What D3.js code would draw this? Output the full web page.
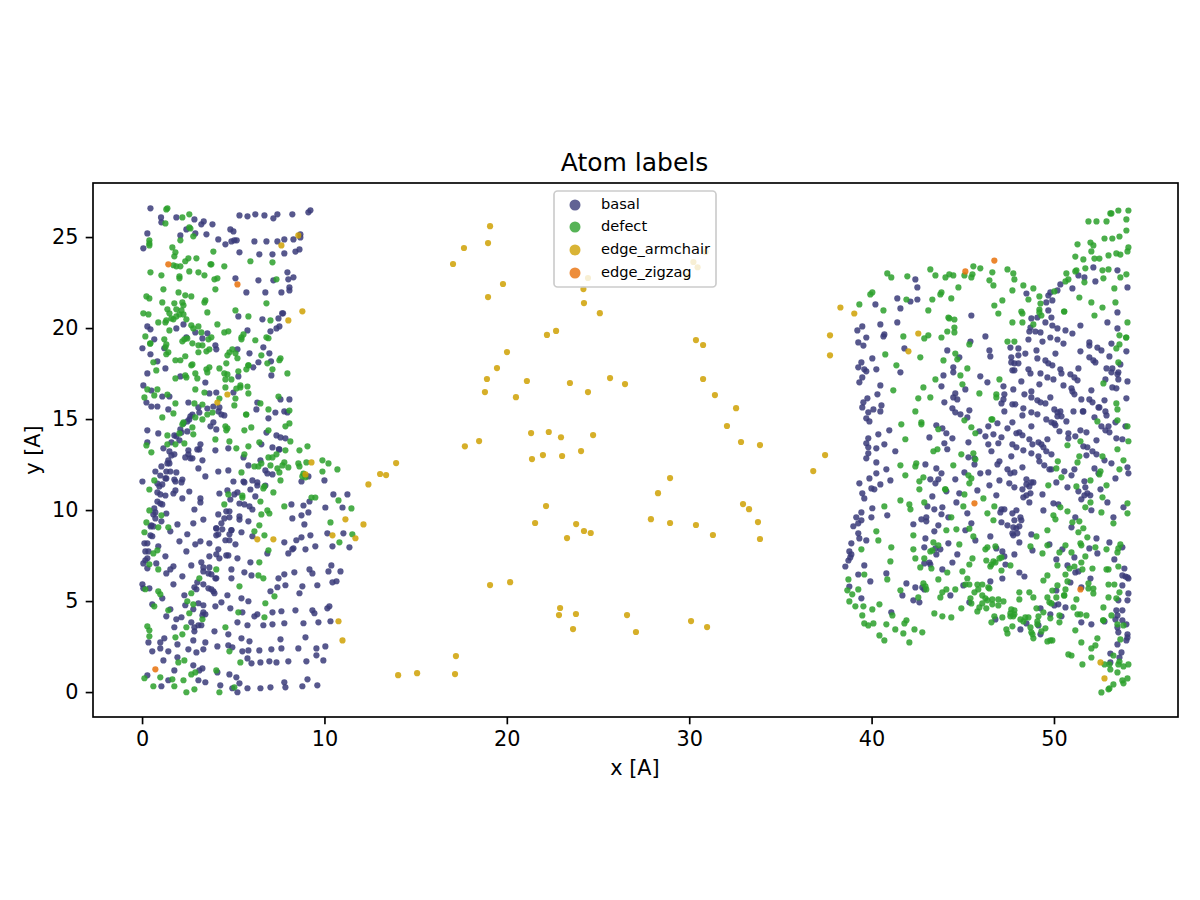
<!DOCTYPE html>
<html>
<head>
<meta charset="utf-8">
<script src="https://cdn.jsdelivr.net/npm/d3@7"></script>
<style>
html,body{margin:0;padding:0;background:#fff}
svg{display:block}
text{font-family:"DejaVu Sans",sans-serif;fill:#000}
</style>
</head>
<body>
<div id="chart"></div>
<script>
// Atom positions per structural label, in angstrom: [x, y]
const basal = [
[0.46,26.58],[1.04,26.08],[1.06,25.81],[1.88,26.08],[2.87,25.97],[3.38,25.86],[3.25,25.7],[3.86,25.7],[2.43,25.42],[2.92,25.2],[2.1,25.09],[3.53,25.15],[0.29,25.2],[4.84,25.42],[5.01,25.31],[5.34,26.19],[5.78,26.14],[6.21,26.25],[6.71,26.19],[7.2,26.03],[7.42,26.25],[8.24,26.25],[9.12,26.36],[9.23,26.47],[4.18,24.87],[4.9,24.76],[5.06,24.82],[5.19,24.82],[4.57,24.6],[6.16,24.76],[6.82,24.76],[7.42,24.76],[7.8,24.87],[8.3,24.87],[8.68,25.15],[8.68,24.98],[0.07,24.38],[5.34,24.16],[6.43,24.05],[7.15,24.05],[7.8,24.1],[8.41,24.2],[8.63,24.32],[7.97,23.06],[8.3,22.79],[8.02,22.68],[5.12,22.73],[6.38,22.62],[7.2,22.62],[8.08,22.24],[8.08,22.07],[5.72,21.96],[6.76,21.96],[7.64,21.96],[7.73,20.81],[7.68,20.81],[5.28,20.64],[6.6,20.48],[7.48,20.53],[0.29,20.09],[0.46,19.93],[2.27,20.2],[1.88,19.98],[2.92,19.76],[3.58,19.71],[3.31,19.43],[2.43,19.49],[5.78,19.87],[7.53,20.09],[7.37,19.98],[7.04,19.82],[0.67,19.38],[0.02,18.89],[1.22,18.89],[4.02,19.05],[4.07,18.83],[5.23,18.83],[6.65,18.94],[5.89,18.61],[6.98,18.61],[0.46,18.56],[0.84,18.17],[6.38,18.12],[7.07,18.17],
[0.29,17.51],[1.28,17.78],[2.1,17.34],[3.47,17.01],[5.28,17.34],[6.1,17.84],[7.09,17.4],[0.07,16.85],[0.51,16.57],[1.11,16.24],[1.5,16.24],[3.69,16.41],[4.07,16.46],[5.01,16.46],[0.24,15.91],[0.51,15.69],[0.84,15.69],[2.54,15.91],[1.44,15.53],[3.09,15.64],[3.14,15.36],[3.58,15.58],[3.91,15.69],[4.24,15.64],[4.19,15.42],[4.35,15.25],[4.51,15.2],[6.32,15.91],[6.27,15.53],[7.59,16.08],[8.08,16.08],[7.31,15.36],[7.8,15.42],[7.97,15.36],[6.93,15.04],[2.76,15.25],[2.65,15.15],[2.59,14.98],[2.48,14.87],[2.27,14.76],[3.91,14.82],[3.75,14.6],[4.07,14.43],[0.29,14.38],[0.89,14.21],[2.1,14.43],[2.48,14.32],[2.16,14.26],[1.77,14.1],[1.88,14.05],[2.05,13.83],[1.61,13.72],[0.29,13.72],[6.82,14.26],[7.37,14.1],[7.59,13.99],[7.86,13.94],[6.54,13.61],[3.2,13.61],[3.14,13.33],[3.03,13.33],[1.17,13.39],[2.54,13.28],[1.5,13.22],[4.02,13.28],[4.73,13.39],[7.15,13.44],[7.53,13.33],[7.5,13.33],[1.77,13.06],[1.61,13.0],[2.54,13.06],[2.37,12.89],[2.65,12.84],[2.76,12.84],[5.56,12.89],[1.44,12.73],[1.39,12.56],[1.5,12.56],[3.31,12.73],[6.49,12.73],[1.06,12.4],[3.09,12.29],[5.83,12.45],[0.73,12.12],[1.33,12.12],[1.55,12.12],[1.88,12.07],[4.18,12.12],[4.73,12.18],[6.76,12.18],[6.87,12.01],[7.15,11.96],[1.0,11.9],[3.47,11.85],[9.12,11.85],[1.28,11.74],[1.33,11.74],[0.02,11.57],[2.21,11.68],[2.16,11.52],[1.77,11.68],[1.83,11.57],[0.84,11.46],[1.11,11.41],[0.95,11.3],[5.01,11.57],[5.56,11.57],[5.61,11.52],[6.05,11.63],[6.32,11.52],[6.32,11.35],[6.76,11.35],[8.74,11.57],[10.0,11.63],[5.94,11.13],[1.83,11.08],[1.72,10.91],[0.84,10.97],[1.0,10.86],[1.28,10.8],[2.59,11.02],[4.68,11.08],[5.23,10.97],[5.06,10.86],[4.24,10.91],[4.84,10.58],[6.21,10.75],[10.49,10.86],[11.26,10.86],[2.21,10.64],[3.2,10.64],[3.2,10.42],[0.84,10.47],[1.0,10.36],[1.11,10.31],[9.18,10.47],[5.34,10.36],[5.61,10.31],[5.89,10.2],[6.05,10.03],[8.19,10.31],[8.85,10.25],[10.05,10.14],[10.99,10.14],[0.67,10.09],[0.73,9.87],[0.62,9.76],[0.73,9.54],[2.87,10.03],[1.33,9.81],[9.12,9.87],[8.74,9.71],[4.18,9.76],[4.62,9.93],[4.79,9.93],[4.79,9.6],[4.51,9.54],[5.34,9.65],[5.34,9.48],[8.24,9.54],[2.81,9.27],[3.36,9.48],[1.94,9.21],[5.83,9.38],[4.35,9.27],[8.9,9.21],[1.06,9.38],[0.51,9.16],[0.62,9.1],[4.07,8.99],[4.9,8.9],
[0.47,9.1],[1.55,8.83],[2.48,8.67],[2.05,8.28],[0.46,8.61],[0.56,8.56],[0.13,8.17],[0.29,8.17],[4.07,9.0],[4.4,8.94],[4.18,8.67],[4.07,8.61],[4.9,8.89],[4.79,8.67],[5.45,8.78],[6.05,8.56],[4.57,8.34],[4.79,8.34],[5.12,8.12],[2.92,8.12],[3.2,8.28],[3.69,8.17],[7.8,8.23],[8.46,8.34],[8.74,8.5],[9.23,8.61],[10.16,8.72],[11.04,8.72],[10.44,8.01],[11.37,7.95],[9.5,8.01],[8.96,7.84],[8.3,7.9],[8.24,7.84],[8.02,7.62],[0.89,8.01],[0.18,7.73],[0.35,7.73],[2.43,7.73],[4.18,7.84],[4.07,7.57],[4.24,7.35],[3.69,7.46],[4.62,7.51],[4.73,7.51],[5.23,7.35],[6.87,7.62],[1.28,7.46],[0.29,7.35],[0.18,7.24],[0.07,7.07],[0.78,7.07],[0.29,6.8],[3.25,7.13],[2.7,6.96],[5.94,7.13],[1.72,6.91],[1.55,6.74],[1.33,6.52],[3.36,6.85],[3.36,6.63],[3.69,6.85],[3.64,6.52],[3.8,6.47],[4.9,6.74],[4.9,6.25],[4.07,6.25],[4.02,6.25],[2.21,6.36],[5.61,6.58],[6.0,6.41],[7.48,6.25],[7.8,6.47],[8.35,6.58],[9.18,6.74],[9.34,6.52],[10.38,6.96],[10.22,6.63],[10.88,6.63],[10.44,6.03],[10.66,6.09],[9.61,5.87],[8.79,5.81],[7.86,5.87],[7.42,5.76],[7.04,5.54],[8.63,5.43],[0.02,5.92],[0.07,5.7],[0.4,5.7],[1.72,5.92],[3.03,6.03],[2.87,5.76],[2.98,5.65],[3.36,5.92],[3.64,5.7],[3.8,5.65],[3.91,5.54],[3.97,5.43],[2.32,5.32],[4.68,5.32],[5.45,5.15],[5.83,4.99],[1.11,5.15],[0.56,4.82],[3.09,4.88],[3.36,4.77],[2.37,4.77],[2.81,4.55],[1.55,4.55],[4.02,4.71],[4.35,4.93],[4.84,4.6],[3.36,4.38],[3.47,4.27],[3.31,4.22],[5.5,4.38],[7.15,4.38],[7.64,4.44],[6.32,4.27],[6.16,4.16],[8.41,4.49],[9.34,4.49],[9.45,4.33],[10.16,4.6],[10.27,4.71],[1.33,4.16],[1.88,4.0],[2.16,4.11],[2.7,3.83],[5.23,3.83],[5.78,3.67],[6.65,3.67],[7.15,3.72],[7.8,3.78],[8.85,3.78],[9.67,3.83],[10.33,3.89],[1.77,3.56],[2.87,3.56],[2.87,3.34],[3.09,3.67],[3.25,3.67],[3.97,3.34],[4.73,3.17],[1.22,2.95],[1.0,2.73],[5.45,2.95],[5.89,2.79],[7.59,2.9],[8.96,3.01],[0.35,2.73],[1.94,2.62],[2.81,2.84],[3.47,2.73],[1.0,2.4],[2.54,2.35],[2.98,2.18],[3.36,2.35],[4.13,2.51],[4.73,2.57],[4.95,2.46],[0.56,2.24],[1.44,2.24],[5.5,2.24],[5.83,2.29],[6.43,2.29],[7.09,2.35],[7.64,2.4],[8.57,2.4],[9.56,2.4],[10.05,2.51],[9.56,2.02],[9.94,1.74],[9.01,1.69],[8.02,1.69],[7.37,1.63],[6.98,1.69],[6.49,1.63],[6.0,1.58],[5.78,1.85],[1.17,1.74],[1.94,1.91],[2.81,1.47],[1.77,1.19],[3.31,1.3],[3.14,1.19],[0.29,0.92],[4.13,1.08],[4.79,0.97],[5.17,0.81],[3.09,0.65],[3.47,0.54],[1.44,0.65],[4.29,0.37],[5.34,0.48],[1.06,0.32],[4.95,0.21],[5.78,0.21],[6.49,0.21],[7.04,0.26],[7.8,0.54],[7.86,0.26],[8.79,0.32],[9.07,0.7],[9.61,0.37],[5.23,-0.01],
[42.4,22.67],[42.51,22.23],[52.16,23.33],[53.48,23.17],[51.34,22.89],[51.67,22.78],[52.27,22.56],[50.35,22.4],[51.01,22.18],[54.03,22.23],[48.49,21.9],[50.19,22.07],[49.8,21.96],[49.69,21.79],[41.41,21.63],[42.13,21.46],[42.51,21.57],[40.21,21.3],[41.58,21.08],[49.91,21.52],[49.58,21.41],[49.69,20.97],[45.47,20.69],[48.76,20.53],[49.09,20.58],[49.86,20.58],[53.48,20.86],[41.41,20.31],[40.48,20.2],[49.53,20.31],[49.91,20.14],[50.19,19.98],[52.93,20.31],[51.45,20.14],[53.48,19.98],[39.49,20.09],[39.22,19.87],[48.71,20.03],[48.65,19.81],[48.98,19.81],[49.26,19.76],[50.63,19.87],[51.01,19.7],[40.7,19.65],[40.65,19.54],[39.71,19.48],[46.24,19.54],[49.8,19.48],[50.19,19.37],[48.6,19.37],[45.42,19.26],[49.37,19.26],[39.27,19.21],[39.55,19.04],[50.52,19.15],[51.94,19.21],[51.94,19.04],[53.15,19.15],[52.38,18.93],[52.6,18.77],[47.61,18.93],[48.05,18.88],[41.8,18.88],[44.15,18.77],[46.46,18.77],[49.04,18.77],[51.45,18.72],[53.97,18.72],[48.43,18.6],[50.08,18.6],[48.05,18.5],[46.51,18.44],[53.04,18.44],[47.66,18.39],[44.81,18.39],[40.04,18.33],[49.09,18.33],[51.94,18.39],[52.16,18.22],[52.27,18.11],[39.44,18.11],[39.27,17.84],[49.53,18.22],[49.69,18.06],[49.91,17.95],[47.66,18.11],[48.05,18.06],[47.83,18.06],[53.64,18.0],[44.48,17.84],[40.26,17.73],[39.6,17.73],[48.6,17.73],[50.35,17.73],[51.34,17.78],[52.88,17.78],[53.2,17.78],
[39.71,17.62],[41.58,17.57],[39.49,17.29],[39.33,17.02],[40.48,16.85],[40.32,16.36],[39.77,16.14],[39.55,15.92],[39.49,15.64],[40.54,15.75],[40.1,15.53],[39.82,15.37],[40.48,15.42],[39.71,15.04],[39.88,14.87],[44.48,17.57],[43.94,17.4],[43.83,16.8],[45.14,16.63],[44.59,16.41],[44.48,16.19],[44.7,16.08],[43.99,15.92],[44.43,15.59],[44.59,15.37],[44.87,15.26],[45.36,15.48],[45.25,15.09],[45.96,17.35],[46.35,17.02],[47.23,16.8],[47.28,16.36],[47.23,16.08],[47.12,15.86],[47.77,16.63],[48.21,17.07],[47.72,15.81],[47.88,15.81],[47.28,15.42],[48.38,16.36],[48.76,16.52],[48.76,16.19],[48.32,15.59],[48.27,15.2],[48.76,15.37],[49.09,15.26],[49.09,16.03],[49.26,15.92],[49.53,15.86],[49.8,16.19],[50.02,15.53],[50.19,15.37],[50.35,15.42],[50.19,15.15],[50.41,15.15],[51.07,15.42],[51.61,15.42],[51.58,15.42],[49.2,16.91],[48.71,17.51],[49.26,17.51],[49.64,17.29],[49.97,17.18],[50.41,17.51],[50.9,17.46],[51.12,17.29],[51.29,17.13],[50.52,16.85],[50.96,16.69],[51.01,16.52],[51.12,16.36],[51.5,16.08],[52.05,16.58],[51.94,16.08],[52.11,15.92],[52.44,15.64],[52.49,15.64],[52.77,16.03],[52.82,15.42],[52.88,15.2],[52.22,15.1],[53.15,17.57],[53.53,17.57],[54.03,17.07],[52.82,17.18],[53.2,16.74],[53.42,16.69],[53.97,16.14],[53.48,17.46],[53.53,17.18],[47.72,17.68],[47.83,17.68],[49.58,14.98],[49.86,14.82],[50.02,14.76],[50.08,14.66],[50.3,14.33],[50.68,14.87],[48.76,14.6],[47.72,14.82],[47.45,14.49],[46.9,14.77],[46.4,14.6],[45.91,14.33],[46.24,14.05],[46.68,14.16],[47.94,14.22],[48.1,14.27],[48.27,14.11],[47.12,14.0],[46.95,13.67],[46.4,13.61],[46.57,13.23],[47.72,13.61],[47.94,13.45],[48.32,13.28],[48.65,13.89],[48.82,13.61],[49.15,13.72],[49.31,13.61],[49.42,13.45],[49.58,13.23],[49.64,13.89],[48.76,13.12],[49.86,13.06],[50.79,14.22],[50.79,13.94],[51.17,14.05],[51.45,14.38],[51.78,14.27],[52.33,13.83],[51.61,13.5],[51.83,13.45],[52.11,13.23],[52.33,13.06],[51.78,13.01],[52.6,14.6],[52.82,14.38],[53.04,14.27],[52.99,14.6],[53.42,13.94],[53.75,13.89],[53.92,14.6],[53.37,14.82],[43.55,14.66],[43.88,14.49],[44.1,14.22],[44.43,13.94],[43.17,13.99],[43.99,13.67],[44.15,13.34],[45.31,13.72],[40.97,14.38],[40.37,14.16],[39.82,13.94],[39.71,13.67],[39.82,13.45],[40.7,13.61],[40.26,13.39],[41.3,13.23],[39.82,13.12],[39.71,12.84],[40.26,12.62],[42.95,12.51],[40.81,12.24],[40.26,12.02],[39.88,11.74],[41.03,11.63],[40.48,11.41],[39.33,11.47],[39.99,11.19],[40.15,11.14],[39.49,10.92],[39.6,10.64],[45.31,12.9],[45.64,12.84],[45.64,12.51],[47.01,12.68],[46.9,12.51],[47.66,12.95],[48.27,12.35],[43.55,12.29],[43.83,12.02],[45.09,12.07],[45.96,12.02],[46.4,12.07],[47.45,12.24],[47.61,12.02],[47.83,12.07],[43.22,11.69],[43.66,11.69],[43.5,11.47],[44.59,11.69],[46.46,11.36],[47.01,11.63],[47.55,11.47],[47.83,11.25],[48.49,11.69],[48.49,11.41],[48.76,11.52],[48.87,11.52],[48.65,11.3],[48.27,11.14],[48.71,10.92],[48.49,10.81],[48.32,10.7],[48.65,10.42],[49.37,10.86],[43.33,10.75],[44.1,11.03],[44.81,10.92],[45.8,11.08],[46.84,10.81],[44.65,10.42],[43.06,10.2],[43.44,10.04],[43.88,10.15],[45.25,9.82],[43.83,9.77],[44.21,9.6],[47.12,10.04],[47.28,10.04],[47.06,9.87],[47.72,9.82],[47.94,9.99],[48.16,9.6],[48.21,9.44],[49.42,9.98],[47.83,9.44],[47.12,9.33],[47.45,9.16],[47.77,9.05],[47.94,9.0],[48.1,9.11],[47.72,8.72],[45.47,9.27],[45.14,8.89],[43.0,9.6],[42.73,9.49],[43.0,9.38],[42.29,9.22],[43.44,8.83],[43.66,9.16],[40.86,9.71],[40.04,10.1],[39.99,9.6],[39.44,9.87],[39.16,9.6],[39.44,9.44],[39.27,9.27],[39.0,9.11],[39.27,8.72],[49.97,10.37],[50.24,10.31],[51.17,9.6],[50.96,9.05],[52.05,9.99],[52.93,10.42],[53.81,10.15],[53.26,9.6],[50.13,11.52],[50.57,12.13],[51.12,12.24],[50.96,11.91],[50.74,11.25],[51.34,11.03],[51.67,11.58],[51.72,11.25],[51.83,10.92],[51.67,10.81],[51.5,10.59],[51.99,10.81],[52.55,11.14],[53.37,11.74],[54.08,12.02],[54.03,12.35],[53.15,12.57],[52.22,12.29],[52.44,12.02],[52.77,12.73],[49.86,12.24],[49.47,12.46],[49.75,12.24],[49.15,12.95],[49.2,12.68],
[46.51,8.55],[45.69,8.33],[48.1,8.22],[47.77,8.61],[47.99,8.72],[48.76,8.66],[52.33,8.44],[53.04,8.22],[42.95,8.44],[39.33,8.44],[39.71,8.33],[38.89,8.17],[44.21,8.17],[42.89,7.95],[43.5,7.89],[43.77,7.84],[43.55,7.56],[44.7,7.56],[46.84,7.89],[47.17,7.73],[47.28,7.45],[48.82,7.78],[49.75,8.11],[47.83,7.56],[51.94,7.89],[50.46,7.84],[52.38,7.62],[53.75,7.95],[38.78,7.73],[38.89,7.56],[38.83,7.4],[38.73,7.23],[38.56,6.9],[39.6,6.96],[43.17,7.12],[43.22,7.01],[42.89,7.07],[44.43,7.12],[47.34,7.01],[50.13,7.29],[51.12,7.4],[50.74,6.96],[53.31,7.29],[53.86,6.79],[43.88,6.74],[39.27,6.46],[40.81,6.52],[48.1,6.57],[48.38,6.35],[47.17,6.24],[51.17,6.57],[51.34,6.63],[52.0,6.24],[53.75,6.41],[53.92,6.35],[54.03,6.3],[54.08,6.24],[39.93,6.08],[41.91,5.97],[46.51,6.08],[45.03,5.86],[50.9,6.02],[38.78,5.8],[42.4,5.75],[53.75,5.86],[42.89,5.64],[42.78,5.75],[50.13,5.58],[51.5,5.75],[41.69,5.31],[44.32,5.31],[39.44,5.15],[42.29,5.04],[42.62,4.93],[45.36,4.93],[54.08,5.42],[54.03,5.04],[53.53,5.04],[50.02,4.76],[50.24,4.82],[49.26,4.6],[50.63,4.65],[41.08,4.38],[53.42,4.49],[53.75,4.49],[53.48,4.21],[53.37,3.99],[49.8,4.27],[50.41,4.16],[46.79,3.99],[53.75,3.94],[51.5,3.83],[52.05,3.72],[52.77,3.88],[48.49,3.77],[49.15,3.66],[48.16,3.44],[53.97,3.72],[53.48,3.55],[53.53,3.28],[49.26,3.17],[54.03,3.17],[54.03,3.0],[53.97,2.84],[53.48,2.62],[53.7,2.18],[53.09,2.12],[53.59,1.9],[53.09,1.63]
];
const defect = [
[1.39,26.58],[1.33,26.52],[2.21,26.08],[2.59,26.25],[1.28,25.75],[2.59,25.53],[2.65,25.47],[2.81,25.04],[2.1,24.82],[0.4,24.82],[0.4,24.65],[0.4,24.54],[1.66,24.43],[1.83,24.16],[1.77,23.94],[3.91,24.2],[2.54,23.83],[2.98,23.83],[2.37,23.67],[5.94,23.67],[7.15,23.61],[1.72,23.45],[1.88,23.39],[2.1,23.39],[3.75,23.5],[3.8,23.5],[4.51,23.39],[0.46,23.06],[1.06,22.9],[2.59,23.11],[3.09,23.06],[3.42,22.9],[2.05,22.84],[2.05,22.73],[3.97,22.68],[4.13,22.73],[7.37,22.68],[1.17,22.13],[4.02,22.13],[2.0,21.96],[2.37,21.8],[2.7,21.74],[0.24,21.74],[0.4,21.63],[3.47,21.52],[3.42,21.41],[1.11,21.41],[1.77,21.36],[2.21,21.41],[2.27,21.25],[6.82,21.36],[1.39,21.03],[0.07,20.81],[0.35,20.75],[1.5,20.81],[1.88,21.03],[2.16,20.97],[2.05,20.75],[2.27,20.75],[1.88,20.64],[1.61,20.53],[1.72,20.48],[2.43,20.48],[3.58,20.86],[5.12,20.97],[5.83,20.64],[7.04,20.42],[0.89,20.31],[1.28,20.31],[1.33,20.42],[4.13,20.2],[2.7,20.15],[3.09,20.09],[2.81,19.98],[1.5,19.87],[3.25,19.76],[4.51,19.76],[4.73,19.82],[0.18,19.54],[1.22,19.38],[2.32,19.38],[2.21,19.27],[2.48,19.43],[2.76,19.16],[3.64,19.38],[3.8,19.49],[5.56,19.65],[5.45,19.49],[5.45,19.38],[6.21,19.33],[6.82,19.49],[6.93,19.44],[0.46,19.16],[0.44,19.14],[3.09,19.05],[3.31,19.05],[1.33,19.1],[1.28,18.94],[1.44,18.67],[1.33,18.56],[3.09,18.67],[3.53,18.72],[3.69,18.83],[4.95,18.83],[4.79,18.67],[4.68,18.5],[5.12,18.61],[5.23,18.34],[6.54,18.5],[7.59,18.34],[7.53,18.23],[1.83,18.23],[2.1,18.23],[2.37,18.45],[0.62,18.12],[2.76,18.0],[4.62,18.06],[5.83,17.95],[6.87,18.06],
[0.78,17.67],[1.83,17.23],[2.37,17.4],[2.43,17.29],[2.92,17.51],[3.03,17.23],[3.53,17.73],[3.58,17.56],[3.69,17.84],[2.7,17.95],[4.24,17.78],[4.51,17.51],[4.68,17.45],[4.57,17.18],[4.9,17.18],[5.28,17.62],[5.72,17.73],[5.83,17.95],[7.15,17.73],[7.97,17.51],[4.57,16.74],[5.39,16.85],[5.17,16.68],[5.39,16.74],[5.78,16.79],[0.29,16.63],[0.84,16.63],[2.92,16.63],[0.13,16.19],[0.67,16.3],[1.39,16.35],[3.42,16.46],[5.83,16.41],[5.12,16.13],[4.24,16.13],[7.48,16.24],[1.83,15.86],[2.87,15.86],[3.31,15.8],[5.06,15.75],[6.49,15.86],[6.93,15.53],[8.08,15.47],[1.72,15.31],[5.72,15.25],[5.7,15.25],[1.11,15.09],[2.92,15.09],[3.31,14.98],[3.58,15.25],[3.86,15.36],[2.27,14.82],[2.21,14.71],[8.08,14.76],[7.86,14.6],[2.76,14.54],[4.57,14.6],[4.68,14.49],[4.62,14.38],[5.99,14.54],[5.61,14.38],[6.93,14.38],[2.05,14.21],[2.81,14.16],[1.39,14.1],[4.02,13.88],[4.79,13.77],[6.43,13.72],[8.13,13.77],[0.24,13.55],[1.39,13.61],[1.83,13.61],[2.32,13.66],[5.83,13.5],[5.17,13.39],[9.07,13.5],[7.86,13.28],[8.63,13.28],[0.51,13.17],[5.61,13.06],[7.37,13.06],[6.93,12.89],[7.15,12.89],[9.89,12.73],[10.22,12.56],[8.57,12.56],[8.63,12.4],[9.01,12.62],[7.8,12.62],[7.7,12.45],[6.54,12.56],[7.04,12.45],[6.16,12.4],[6.38,12.4],[7.42,12.29],[8.02,12.34],[10.71,12.23],[9.89,12.12],[7.53,12.07],[5.45,12.07],[8.85,12.01],[8.79,11.85],[8.96,11.8],[7.59,11.63],[0.67,11.63],[6.65,11.19],[6.71,11.3],[0.4,11.13],[7.2,10.97],[4.73,10.86],[5.5,10.8],[5.5,10.69],[6.49,10.47],[9.29,10.69],[9.5,10.69],[10.77,10.53],[4.51,10.31],[7.8,10.2],[11.48,10.09],[6.87,9.98],[6.98,9.81],[6.54,9.76],[0.4,9.98],[1.06,9.71],[10.33,9.32],[6.43,9.16],[0.24,9.32],[0.89,9.05],[1.44,9.05],
[0.13,8.78],[6.16,8.83],[6.71,8.61],[10.82,8.23],[11.53,8.67],[6.93,7.79],[0.84,7.79],[0.62,7.62],[0.4,7.02],[0.89,6.74],[6.43,7.13],[4.07,6.74],[6.38,6.41],[6.65,6.25],[3.14,6.25],[5.34,5.81],[0.18,5.65],[0.89,5.54],[1.0,5.37],[2.7,5.43],[7.26,5.26],[2.48,4.99],[2.81,4.82],[6.76,4.88],[0.67,4.71],[1.44,4.49],[2.59,4.33],[5.28,4.38],[6.71,4.11],[3.31,4.0],[0.29,3.61],[0.4,3.39],[4.57,3.56],[2.43,3.56],[2.21,3.17],[1.83,3.01],[0.4,3.06],[4.79,2.24],[5.39,1.63],[1.99,1.63],[2.32,1.74],[4.07,1.19],[2.92,1.08],[2.7,0.97],[0.13,0.76],[1.0,0.81],[1.66,0.7],[2.27,0.65],[0.62,0.32],[1.77,0.32],[2.87,0.15],[2.43,-0.01],[4.24,-0.01],[5.06,0.26],
[54.08,26.46],[53.53,26.46],[53.15,26.3],[53.09,26.3],[51.89,25.86],[52.33,25.86],[52.88,25.86],[53.97,25.97],[53.97,25.36],[53.59,25.03],[53.2,24.92],[52.77,24.92],[52.0,24.7],[52.16,24.54],[51.29,24.6],[52.05,24.21],[54.08,24.43],[54.03,24.21],[53.42,24.1],[53.64,24.04],[51.17,23.93],[51.61,23.77],[52.22,23.82],[52.49,23.82],[52.99,23.99],[45.58,23.39],[45.96,23.28],[51.72,23.28],[52.66,23.17],[52.99,23.22],[51.23,23.17],[51.17,23.11],[43.22,23.22],[47.45,23.22],[46.62,23.06],[47.77,23.0],[50.68,23.0],[53.97,22.95],[40.86,23.0],[41.08,22.78],[41.96,22.84],[43.5,22.89],[44.05,22.78],[44.26,22.95],[44.48,22.89],[45.09,22.89],[45.53,22.95],[45.47,22.78],[46.46,22.62],[46.68,22.34],[47.83,22.67],[52.71,22.73],[53.64,22.78],[50.79,22.67],[50.63,22.56],[51.67,22.51],[48.32,22.34],[44.76,22.23],[48.87,22.18],[53.31,22.18],[47.72,22.07],[50.02,22.01],[40.04,21.96],[39.93,21.85],[43.83,21.96],[43.77,21.85],[49.2,21.74],[51.39,21.68],[41.91,21.57],[43.33,21.57],[44.37,21.63],[48.6,21.57],[47.17,21.52],[52.05,21.41],[53.37,21.41],[39.33,21.3],[49.26,21.35],[46.73,21.24],[52.66,21.13],[40.65,20.97],[43.11,20.97],[48.21,20.91],[48.27,20.8],[49.2,21.02],[49.2,20.86],[49.31,20.69],[46.95,20.8],[50.57,20.91],[50.55,20.91],[52.22,20.69],[44.21,20.58],[44.26,20.53],[44.54,20.47],[47.72,20.31],[48.27,20.31],[48.87,20.2],[54.03,20.31],[44.54,20.03],[44.15,19.81],[44.54,19.76],[53.59,19.6],[53.97,19.48],[53.95,19.48],[41.74,19.54],[43.11,19.6],[42.89,19.43],[43.83,19.48],[47.45,19.26],[47.83,19.26],[45.36,19.1],[53.59,19.1],[53.42,18.88],[44.59,18.6],[40.75,18.55],[42.67,18.39],[44.7,18.28],[43.94,18.22],[41.36,17.95],[45.25,17.78],[53.53,18.11],
[43.5,17.18],[44.87,17.4],[44.98,16.91],[47.01,17.18],[41.19,16.58],[42.84,16.74],[42.56,16.14],[43.22,16.19],[45.91,16.41],[46.84,16.36],[46.84,16.19],[52.71,16.96],[42.4,15.42],[53.42,15.86],[53.48,15.53],[45.09,14.93],[46.57,14.98],[46.62,14.98],[52.38,14.87],[53.48,14.93],[41.63,14.71],[42.73,14.82],[42.73,14.71],[45.47,14.55],[43.66,14.44],[54.03,14.6],[45.69,14.22],[41.85,13.89],[51.45,13.78],[54.08,13.78],[50.74,13.56],[53.48,13.34],[43.61,13.34],[43.39,13.23],[44.92,13.06],[45.58,13.12],[45.69,12.79],[51.39,12.95],[52.66,12.95],[53.81,12.73],[50.21,12.68],[51.29,12.62],[41.58,12.46],[42.45,12.57],[42.4,12.4],[44.48,12.46],[50.13,12.29],[53.59,12.24],[52.55,12.13],[52.49,11.96],[41.85,11.91],[42.84,11.8],[42.62,11.58],[45.31,11.91],[45.47,11.74],[45.36,11.47],[50.41,11.8],[52.0,11.63],[49.69,11.36],[51.23,11.3],[52.88,11.36],[42.62,11.14],[44.05,11.14],[44.03,11.14],[45.09,10.86],[52.66,10.7],[46.13,10.64],[41.58,10.53],[42.89,10.42],[52.0,10.42],[54.03,10.37],[42.07,10.31],[42.13,10.04],[40.7,10.2],[45.03,10.2],[46.73,10.2],[50.35,10.15],[51.72,10.15],[50.74,9.93],[52.6,9.87],[54.03,9.82],[46.35,9.82],[49.97,9.71],[44.37,9.6],[46.68,9.44],[50.08,9.49],[51.01,9.33],[51.39,9.38],[53.26,9.27],[40.26,8.83],[44.1,8.89],[44.65,8.94],[45.36,8.98],[49.64,8.89],[51.34,8.78],[51.61,9.0],[42.29,8.61],
[40.37,8.33],[45.58,8.55],[49.04,8.55],[51.83,8.5],[43.39,8.22],[43.66,8.06],[44.81,8.11],[41.08,7.95],[39.44,7.84],[42.29,7.84],[43.22,7.73],[43.33,7.78],[46.24,7.84],[46.35,7.95],[46.79,8.0],[48.71,8.0],[49.64,8.06],[50.63,8.06],[51.5,8.06],[51.45,8.17],[52.27,7.95],[52.88,7.84],[53.64,8.11],[53.53,7.89],[53.48,7.67],[50.3,7.67],[49.37,7.62],[50.96,7.67],[51.72,7.45],[47.12,7.4],[47.01,7.34],[42.4,7.34],[42.89,7.34],[45.53,7.34],[41.03,7.18],[46.29,7.23],[46.68,7.18],[46.57,7.01],[46.51,6.9],[46.79,7.12],[51.5,7.12],[45.36,7.01],[47.61,6.96],[50.19,6.96],[42.67,6.85],[43.28,6.79],[51.12,6.9],[50.85,6.79],[51.56,6.74],[52.11,6.79],[53.53,6.9],[52.88,6.74],[52.99,6.74],[44.98,6.63],[47.12,6.68],[44.15,6.57],[39.6,6.46],[50.63,6.46],[49.64,6.41],[38.73,6.19],[40.86,6.19],[43.66,6.19],[45.25,6.24],[49.42,6.13],[50.74,6.08],[51.89,5.97],[50.19,5.86],[42.84,5.97],[42.95,5.81],[45.14,5.91],[45.36,5.91],[45.8,5.91],[46.07,5.91],[46.4,5.75],[46.46,5.69],[52.99,5.91],[53.31,5.91],[38.67,5.59],[39.27,5.64],[41.58,5.59],[43.0,5.64],[44.1,5.64],[43.88,5.48],[44.59,5.64],[45.85,5.64],[45.64,5.48],[48.1,5.48],[48.65,5.48],[49.91,5.58],[50.63,5.64],[51.89,5.69],[52.16,5.69],[52.16,5.42],[53.59,5.48],[38.94,5.37],[46.07,5.31],[50.57,5.31],[50.55,5.31],[43.77,5.2],[42.56,5.2],[48.1,5.09],[48.87,5.2],[49.64,5.2],[50.13,5.2],[51.23,5.09],[52.99,5.2],[53.42,5.15],[38.78,4.98],[45.42,5.15],[45.47,4.87],[46.24,5.15],[46.35,5.04],[46.62,5.09],[46.95,5.09],[47.23,4.98],[46.62,4.82],[46.95,4.76],[46.07,4.87],[45.91,4.65],[49.75,4.93],[49.86,4.87],[40.43,4.82],[39.11,4.71],[39.55,4.71],[40.04,4.54],[44.92,4.6],[46.29,4.6],[45.8,4.43],[49.04,4.6],[49.42,4.38],[51.07,4.65],[52.71,4.65],[47.66,4.54],[47.83,4.49],[47.61,4.32],[47.83,4.27],[47.61,4.16],[47.77,4.16],[39.49,4.21],[41.14,4.21],[43.44,4.32],[43.88,4.16],[44.37,4.1],[46.73,4.16],[47.17,4.1],[48.43,4.1],[48.6,4.1],[48.16,3.99],[48.32,3.88],[49.15,4.16],[49.8,4.05],[50.3,4.21],[50.3,3.83],[51.29,4.27],[51.45,4.27],[51.78,4.21],[53.15,4.21],[52.71,3.94],[52.69,3.94],[41.91,3.94],[41.8,3.77],[46.57,3.83],[49.09,3.88],[49.09,3.72],[39.6,3.77],[39.82,3.66],[40.1,3.77],[40.81,3.72],[53.48,3.72],[53.81,3.66],[47.72,3.61],[48.71,3.55],[47.39,3.44],[47.45,3.22],[49.53,3.5],[49.31,3.33],[41.3,3.44],[42.35,3.44],[51.17,3.39],[41.74,3.22],[42.78,3.28],[48.76,3.28],[48.82,3.17],[40.43,3.11],[48.87,2.95],[52.38,2.95],[53.64,2.89],[40.7,2.84],[42.07,2.73],[49.64,2.78],[49.8,2.84],[49.91,2.84],[51.5,2.73],[52.27,2.56],[52.05,2.4],[50.79,2.07],[50.96,2.01],[53.26,2.01],[52.05,1.9],[53.59,1.68],[51.56,1.52],[52.77,1.52],[53.04,1.52],[53.53,1.52],[54.08,1.52],[53.81,1.41],[53.09,1.24],[53.48,1.08],[54.03,0.75],[53.75,0.64],[53.81,0.48],[53.26,0.42],[53.04,0.2],[52.99,0.15],[52.6,-0.02]
];
const edgeArmchair = [
[7.64,24.54],[8.57,25.09],[8.02,20.42],[8.79,20.92],[4.68,16.35],[4.13,15.91],[9.29,12.62],[8.96,11.96],[12.41,11.41],[11.15,9.49],[12.14,9.21],[6.32,8.39],[7.2,8.39],[10.44,8.61],[11.7,8.45],[10.77,3.89],[10.99,2.84],
[38.29,21.13],[39.05,20.8],[37.72,19.6],[42.56,19.7],[42.02,18.72],[37.72,18.5],[52.55,1.63],[52.77,0.75],
[19.08,25.6],[17.65,24.4],[18.97,24.67],[17.05,23.52],[19.79,22.42],[18.97,21.7],[24.2,22.14],[24.23,21.37],[25.1,20.82],[24.45,22.75],[22.2,19.62],[22.7,19.84],[20.01,18.68],[19.46,17.8],[18.91,17.2],[18.8,16.48],[20.5,16.2],[21.1,17.09],[23.46,16.98],[24.45,16.48],[25.66,17.25],[26.48,16.92],[30.37,19.34],[30.76,19.07],[30.76,17.2],[31.41,16.32],[32.57,15.6],[32.07,14.62],[32.84,13.74],[33.88,13.57],[36.8,12.14],[37.45,13.02],[30.23,23.63],[30.46,23.34],[30.9,24.18],[29.9,22.85],
[17.7,13.5],[18.48,13.79],[21.33,14.23],[22.3,14.29],[22.97,14.0],[24.73,14.12],[21.38,12.8],[21.98,13.02],[23.03,12.97],[24.07,13.24],[28.95,11.76],[28.29,10.93],[27.9,9.5],[28.95,9.29],[30.37,9.18],[31.3,8.63],[32.95,10.33],[33.28,10.05],[33.77,9.34],[33.88,8.41],[22.15,10.22],[21.55,9.29],[23.8,9.23],[23.3,8.46],[24.23,8.85],[24.6,8.74],[19.08,5.88],[20.18,6.04],[22.92,4.62],[22.86,4.23],[23.79,4.29],[23.63,3.46],[26.59,4.23],[27.08,3.3],[30.1,3.9],[30.98,3.57],[14.04,0.93],[15.08,1.04],[17.16,0.99],[17.21,1.98],[13.05,11.98],[13.38,11.92],[13.93,12.58]
];
const edgeZigzag = [
[1.44,23.5],[5.23,22.4],[0.73,1.25],[45.14,23.11],[46.73,23.71],[45.64,10.37],[51.45,5.64]
];

const labelNames = ["basal", "defect", "edge_armchair", "edge_zigzag"];
const labelPoints = [basal, defect, edgeArmchair, edgeZigzag];
const labelColors = ["#393b79", "#2ca02c", "#cfa104", "#e8710a"];
const xTicks = [0, 10, 20, 30, 40, 50];
const yTicks = [0, 5, 10, 15, 20, 25];
const xDomain = [-2.69, 56.8];
const yDomain = [-1.37, 27.97];

const width = 1200, height = 900;
const frame = {left: 93, right: 1178, top: 183, bottom: 717};
const pointAlpha = 0.85;

const svg = d3.select("#chart").append("svg")
  .attr("width", width).attr("height", height);

const x = d3.scaleLinear().domain(xDomain).range([frame.left, frame.right]);
const y = d3.scaleLinear().domain(yDomain).range([frame.bottom, frame.top]);

// One layer of dots per label, later labels on top
labelNames.forEach((name, i) => {
  svg.append("g").attr("class", "atoms " + name)
    .selectAll("circle").data(labelPoints[i]).join("circle")
    .attr("cx", d => x(d[0]))
    .attr("cy", d => y(d[1]))
    .attr("r", 3.1)
    .attr("fill", labelColors[i])
    .attr("fill-opacity", pointAlpha);
});

// Axes
const xAxis = d3.axisBottom(x).tickValues(xTicks).tickSize(7.3).tickPadding(7.3);
const yAxis = d3.axisLeft(y).tickValues(yTicks).tickSize(7.3).tickPadding(7.3);

const gx = svg.append("g").attr("transform", `translate(0,${frame.bottom})`).call(xAxis);
const gy = svg.append("g").attr("transform", `translate(${frame.left},0)`).call(yAxis);
[gx, gy].forEach(g => {
  g.select(".domain").remove();
  g.selectAll(".tick line").attr("stroke", "#000").attr("stroke-width", 1.67);
  g.selectAll(".tick text").attr("font-size", 20.8).attr("font-family", '"DejaVu Sans"').attr("fill", "#000");
});

// Frame
svg.append("rect")
  .attr("x", frame.left).attr("y", frame.top)
  .attr("width", frame.right - frame.left).attr("height", frame.bottom - frame.top)
  .attr("fill", "none").attr("stroke", "#000").attr("stroke-width", 1.67);

// Titles
svg.append("text").attr("x", (frame.left + frame.right) / 2 - 1).attr("y", 171)
  .attr("text-anchor", "middle").attr("font-size", 25).text("Atom labels");
svg.append("text").attr("x", (frame.left + frame.right) / 2 - 0.5).attr("y", 775)
  .attr("text-anchor", "middle").attr("font-size", 20.8).text("x [A]");
svg.append("text").attr("transform", `translate(40,${(frame.top + frame.bottom) / 2}) rotate(-90)`)
  .attr("text-anchor", "middle").attr("font-size", 20.8).text("y [A]");

// Legend box with translucent white background
const legend = svg.append("g");
legend.append("rect")
  .attr("x", 554).attr("y", 191).attr("width", 162).attr("height", 96).attr("rx", 3.5)
  .attr("fill", "#fff").attr("fill-opacity", 0.8)
  .attr("stroke", "#ccc").attr("stroke-width", 1.67);
const legendRows = [205, 227, 250, 273];
labelNames.forEach((name, i) => {
  legend.append("circle").attr("cx", 575).attr("cy", legendRows[i]).attr("r", 5.5)
    .attr("fill", labelColors[i]).attr("fill-opacity", 0.8);
  legend.append("text").attr("x", 601).attr("y", legendRows[i] + 4)
    .attr("font-size", 14.6).text(name);
});
</script>
</body>
</html>
